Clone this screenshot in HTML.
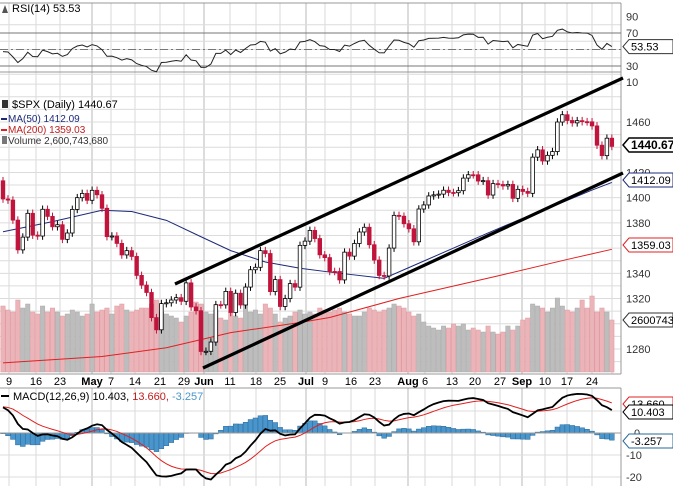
<!DOCTYPE html>
<html><head><meta charset="utf-8"><style>
body{margin:0;background:#fff;}
#wrap{position:relative;width:673px;height:486px;overflow:hidden;font-family:"Liberation Sans",sans-serif;}
svg text{font-family:"Liberation Sans",sans-serif;}
</style></head><body>
<div id="wrap">
<svg id="chart" width="673" height="486" xmlns="http://www.w3.org/2000/svg"></svg>
</div>
<script>
const closes = [
1398.96,1398.08,1382.20,1358.59,1368.71,1387.57,1370.26,1369.57,1390.78,1385.14,1376.92,1378.53,1366.94,1371.97,1390.69,1399.98,1403.36,1397.91,
1405.82,1402.31,1391.57,1369.10,1369.58,1363.72,1354.58,1357.99,1353.39,1338.35,1330.66,1324.80,1304.86,1295.22,1315.99,1316.63,1318.86,1320.68,1317.82,1332.42,1313.32,1310.33,
1278.04,1278.18,1285.50,1315.13,1314.99,1325.66,1308.93,1324.18,1314.88,1329.10,1342.84,1344.78,1357.98,1355.69,1325.51,1335.02,1313.72,1319.99,1331.85,1329.04,1362.16,
1365.51,1374.02,1367.58,1354.68,1352.46,1341.47,1341.45,1334.76,1356.78,1353.64,1363.67,1372.78,1376.51,1362.66,1350.52,1338.31,1337.89,1360.02,1385.97,1385.30,1379.32,
1375.32,1365.00,1390.99,1394.23,1401.35,1402.22,1402.80,1405.87,1404.11,1403.93,1405.53,1415.51,1418.16,1418.13,1413.17,1413.49,1402.08,1411.13,1410.44,1409.30,1410.49,1399.48,1406.58,
1404.94,1403.44,1432.12,1437.92,1429.08,1433.56,1436.56,1459.99,1465.77,1461.19,1459.32,1461.05,1460.26,1460.15,1456.89,1441.59,1433.32,1447.15,1440.67];
const firstOpen = 1413.38;
const volumes = [
3.3,3.1,3.0,3.6,3.2,3.4,3.0,2.9,3.3,3.0,3.2,3.0,2.8,2.9,3.1,3.0,2.8,2.9,
3.4,3.0,3.1,3.2,2.9,3.3,3.4,3.1,3.0,3.1,3.2,3.2,3.4,3.6,3.0,2.9,2.8,2.7,2.5,2.8,3.0,3.5,
3.4,3.0,2.9,3.1,2.7,2.6,3.0,2.8,2.7,3.4,3.0,3.1,2.9,3.4,3.2,2.9,2.5,2.7,2.8,3.0,3.1,
2.9,3.0,2.9,3.2,3.1,3.0,3.1,3.2,3.0,2.9,2.8,2.8,3.0,3.2,3.1,3.0,3.1,3.2,3.4,3.3,3.2,
3.0,2.8,2.9,2.5,2.3,2.2,2.1,2.3,2.2,2.4,2.3,2.4,2.1,2.2,2.1,2.0,2.3,2.0,1.9,2.0,2.3,2.1,2.3,
2.6,2.7,3.4,3.3,3.2,3.0,3.2,3.7,3.3,3.1,3.0,3.2,3.6,3.2,3.8,3.0,3.2,3.0,2.6];
const ma50Days = [0,10,20,26,33,40,46,53,60,66,77,84,98,104,111,119,123];
const ma50Vals = [1373,1381,1390,1389,1382,1369,1358,1349,1344,1341,1336,1348,1372,1382,1393,1406,1412.09];
const ma200Days = [0,20,33,46,60,66,80,100,114,123];
const ma200Vals = [1269,1274,1281,1293,1301,1305,1320,1338,1351,1359.03];
const rsiSeed = [4.6,4.0];      // avg gain / avg loss before first bar
const macdSeed = [1404,1391,12]; // ema12, ema26, signal before first bar
const priceLabels = [1460,1420,1400,1380,1340,1320,1280];
const rsiTicks = [90,70,30];
const macdTicks = [0,-10,-20];

const svg = document.getElementById('chart');
const NS = 'http://www.w3.org/2000/svg';
function mk(tag, attrs, parent){const e=document.createElementNS(NS,tag);for(const k in attrs)e.setAttribute(k,attrs[k]);(parent||svg).appendChild(e);return e;}
const PR = 621;
const xOf = i => 3 + i*4.95;
const yP = p => 122 + (1460-p)*1.261;
const yR = v => 33 + (70-v)*0.825;
const yM = v => 433 - v*2.2;
const yV = v => 372 - v*20;

const dates=[[9,'9'],[36,'16'],[60,'23'],[92,'May',1],[111,'7'],[135,'14'],[160,'21'],[184,'29'],[204,'Jun',1],[230,'11'],[256,'18'],[280,'25'],[306,'Jul',1],[325,'9'],[351,'16'],[375,'23'],[408,'Aug',1],[425,'6'],[452,'13'],[475,'20'],[500,'27'],[522,'Sep',1],[545,'10'],[567,'17'],[592,'24']];

// grids
const gG = mk('g',{});


dates.forEach(d=>{
  const x=d[0]; const dark=!!d[2];
  mk('line',{x1:x,x2:x,y1:3,y2:374,stroke:dark?'#b8b8b8':'#d8d8d8','stroke-width':1},gG);
  mk('line',{x1:x,x2:x,y1:388,y2:486,stroke:dark?'#b8b8b8':'#d8d8d8','stroke-width':1},gG);
});
mk('line',{x1:612,x2:612,y1:3,y2:374,stroke:'#d8d8d8'},gG);
for(let p=1500;p>=1270;p-=10){const y=yP(p); if(y>74&&y<374) mk('line',{x1:0,x2:PR,y1:y,y2:y,stroke:'#dcdcdc'},gG);}
for(let v=80;v>=20;v-=10){const y=yR(v); mk('line',{x1:0,x2:PR,y1:y,y2:y,stroke:'#dcdcdc'},gG);}
[10,0,-10,-20].forEach(v=>{mk('line',{x1:0,x2:PR,y1:yM(v),y2:yM(v),stroke:'#dcdcdc'},gG);});
[3,72,374,388].forEach(y=>mk('line',{x1:0,x2:PR,y1:y,y2:y,stroke:'#999'},gG));
mk('line',{x1:PR,x2:PR,y1:3,y2:374,stroke:'#999'},gG);
mk('line',{x1:PR,x2:PR,y1:388,y2:486,stroke:'#999'},gG);

// RSI
const rsi=[]; let ag=rsiSeed[0], al=rsiSeed[1];
for(let i=0;i<closes.length;i++){const prev=i?closes[i-1]:firstOpen;const d=closes[i]-prev;ag=(ag*13+Math.max(d,0))/14;al=(al*13+Math.max(-d,0))/14;rsi.push(100-100/(1+ag/al));}
[70,30].forEach(v=>{const l=mk('line',{x1:0,x2:PR,y1:yR(v),y2:yR(v),stroke:'#777'});});
const mid=mk('line',{x1:0,x2:PR,y1:yR(50),y2:yR(50),stroke:'#777','stroke-dasharray':'8,3,2,3'});


const rsiLine=mk('polyline',{points:rsi.map((v,i)=>xOf(i)+','+yR(v)).join(' '),fill:'none',stroke:'#222','stroke-width':1});



// volume
closes.forEach((c,i)=>{const prev=i?closes[i-1]:firstOpen;const b=mk('rect',{x:xOf(i)-2.2,y:yV(volumes[i]),width:4.4,height:372-yV(volumes[i]),fill:c<prev?'#eab4b8':'#bdbdbd',stroke:c<prev?'#e09aa0':'#aaa','stroke-width':0.5});

});

// MAs
const ma2=mk('polyline',{points:ma200Days.map((d,k)=>xOf(d)+','+yP(ma200Vals[k])).join(' '),fill:'none',stroke:'#e02020','stroke-width':1});


const ma1=mk('polyline',{points:ma50Days.map((d,k)=>xOf(d)+','+yP(ma50Vals[k])).join(' '),fill:'none',stroke:'#1c2a7a','stroke-width':1});



// candles
closes.forEach((c,i)=>{const o=i?closes[i-1]:firstOpen;const up=c>=o;const x=xOf(i);
 const hi=Math.max(o,c)+3, lo=Math.min(o,c)-3;
 const g=mk('g',{});
 
 
 mk('line',{x1:x,x2:x,y1:yP(hi),y2:yP(lo),stroke:up?'#000':'#c0143c','stroke-width':1},g);
 const top=yP(Math.max(o,c)), h=Math.max(1,yP(Math.min(o,c))-top);
 mk('rect',{x:x-1.8,y:top,width:3.6,height:h,fill:up?'#fff':'#c0143c',stroke:up?'#000':'#c0143c','stroke-width':0.8},g);
});

// trendlines
const t1=mk('line',{x1:175,y1:284,x2:623,y2:78,stroke:'#000','stroke-width':3.2});


const t2=mk('line',{x1:203,y1:368,x2:623,y2:173,stroke:'#000','stroke-width':3.2});



// MACD
let e12=macdSeed[0], e26=macdSeed[1], sig=macdSeed[2]; const macd=[], sigs=[];
closes.forEach(c=>{e12=e12+(c-e12)*2/13;e26=e26+(c-e26)*2/27;const m=e12-e26;sig=sig+(m-sig)*2/10;macd.push(m);sigs.push(sig);});
macd.forEach((m,i)=>{const h=m-sigs[i];const y0=yM(0),y1=yM(h);const r=mk('rect',{x:xOf(i)-2.4,y:Math.min(y0,y1),width:4.8,height:Math.abs(y1-y0),fill:'#4a96cc',stroke:'#2a6a9a','stroke-width':0.5});

});
const zl=mk('line',{x1:0,x2:PR,y1:yM(0),y2:yM(0),stroke:'#999'});


const sl=mk('polyline',{points:sigs.map((v,i)=>xOf(i)+','+yM(v)).join(' '),fill:'none',stroke:'#e02020','stroke-width':1});


const ml=mk('polyline',{points:macd.map((v,i)=>xOf(i)+','+yM(v)).join(' '),fill:'none',stroke:'#000','stroke-width':1.8});



// axis labels
function txt(x,y,s,attrs,name){const t=mk('text',Object.assign({x:x,y:y,'font-size':11,fill:'#333'},attrs||{}));t.textContent=s;return t;}
rsiTicks.forEach(v=>txt(626,yR(v)+4,String(v),{},'rsi-tick-label'));
txt(626,86,'10',{},'price-tick-label');
priceLabels.forEach(v=>txt(626,yP(v)+4,String(v),{},'price-tick-label'));
macdTicks.forEach(v=>txt(v===0?634:626,yM(v)+4,String(v),{},'macd-tick-label'));

// value markers
function marker(y,s,col,bold,name){const g=mk('g',{});
 const w=bold?47:44;
 mk('path',{d:`M${PR+2},${y} L${PR+8},${y-7} L${PR+8+w},${y-7} L${PR+8+w},${y+7} L${PR+8},${y+7} Z`,fill:'#fff',stroke:col,'stroke-width':bold?1.5:1},g);
 const t=mk('text',{x:PR+10,y:y+4,'font-size':bold?12:11,'font-weight':bold?'bold':'normal',fill:'#000'},g);t.textContent=s;}
marker(yR(53.53),'53.53','#333',false,'rsi-value-marker');
marker(145,'1440.67','#000',true,'price-value-marker');
marker(180,'1412.09','#1c2a7a',false,'ma50-value-marker');
marker(245,'1359.03','#e02020',false,'ma200-value-marker');
marker(320,'2600743','#333',false,'volume-value-marker');
marker(404,'13.660','#e02020',false,'macd-signal-marker');
marker(412,'10.403','#000',false,'macd-value-marker');
marker(441,'-3.257','#2a6a9a',false,'macd-histogram-marker');

// legends
txt(12,12,'RSI(14) 53.53',{'font-size':11,fill:'#000'},'rsi-legend');
mk('path',{d:'M2,13 L5,5 L8,13 Z',fill:'#555'});
txt(12,108,'$SPX (Daily) 1440.67',{'font-size':11,fill:'#000'},'price-legend');
mk('rect',{x:2,y:100,width:6,height:8,fill:'#333'});
mk('rect',{x:1,y:118,width:6,height:2,fill:'#1c2a7a'});
txt(8,122,'MA(50) 1412.09',{'font-size':10,fill:'#1c2a7a'},'ma50-legend');
mk('rect',{x:1,y:129,width:6,height:2,fill:'#e02020'});
txt(8,133,'MA(200) 1359.03',{'font-size':10,fill:'#c02020'},'ma200-legend');
mk('rect',{x:2,y:136,width:5,height:8,fill:'#777'});
txt(8,144,'Volume 2,600,743,680',{'font-size':10,fill:'#333'},'volume-legend');
mk('rect',{x:1,y:395,width:8,height:2,fill:'#000'});
const ml2=txt(13,400,'MACD(12,26,9) 10.403, ',{'font-size':11,fill:'#000'},'macd-legend');
const ts1=document.createElementNS(NS,'tspan');ts1.setAttribute('fill','#c02020');ts1.textContent='13.660, ';ml2.appendChild(ts1);
const ts2=document.createElementNS(NS,'tspan');ts2.setAttribute('fill','#4a96cc');ts2.textContent='-3.257';ml2.appendChild(ts2);

// date labels
dates.forEach(d=>txt(d[0],385,d[1],{'font-size':11,fill:'#000','text-anchor':'middle','font-weight':d[2]?'bold':'normal'},'date-label'));
</script>
</body></html>
